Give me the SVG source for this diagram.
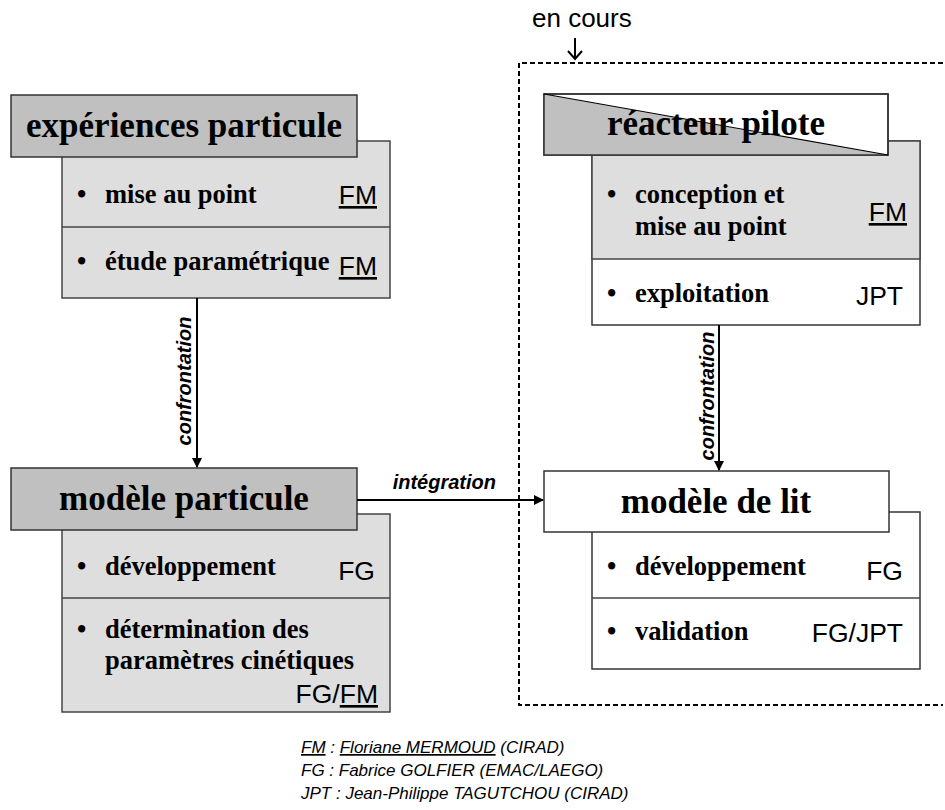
<svg xmlns="http://www.w3.org/2000/svg" width="945" height="810" viewBox="0 0 945 810">
<defs>
<marker id="ah" markerWidth="10" markerHeight="10" refX="9" refY="5" orient="auto" markerUnits="userSpaceOnUse">
<path d="M0,0 L10,5 L0,10 Z" fill="#000"/>
</marker>
<style>
.title{fill:#c0c0c0;stroke:#333;stroke-width:1.5}
.titlew{fill:#fff;stroke:#333;stroke-width:1.5}
.body{fill:#dedede;stroke:#444;stroke-width:1.5}
.bodyw{fill:#fff;stroke:#333;stroke-width:1.5}
.div{stroke:#444;stroke-width:1.5;fill:none}
.tt{font-family:"Liberation Serif","Times New Roman",serif;font-weight:bold;font-size:35px;fill:#000}
.bt{font-family:"Liberation Serif","Times New Roman",serif;font-weight:bold;font-size:26.5px;fill:#000}
.lab{font-family:"Liberation Sans",Arial,sans-serif;font-size:26.5px;fill:#000}
.conn{stroke:#000;stroke-width:2;fill:none}
.cl{font-family:"Liberation Sans",Arial,sans-serif;font-weight:bold;font-style:italic;font-size:20px;fill:#000}
.leg{font-family:"Liberation Sans",Arial,sans-serif;font-style:italic;font-size:17px;fill:#000}
.u{text-decoration:underline}
</style>
</defs>
<rect width="945" height="810" fill="#fff"/>

<g id="en-cours-zone">
<path d="M943,63 H519 V705 H943" fill="none" stroke="#000" stroke-width="2" stroke-dasharray="5,3"/>
<text x="532" y="27" font-family="'Liberation Sans',Arial,sans-serif" font-size="26" fill="#000">en cours</text>
<path d="M575,38 V59 M568,51 L575,59 L582,51" fill="none" stroke="#000" stroke-width="2"/>
</g>

<g id="node-experiences">
<rect class="body" x="62" y="141" width="328" height="157"/>
<line class="div" x1="62" y1="227" x2="390" y2="227"/>
<rect class="title" x="11" y="95" width="346" height="62"/>
<text class="tt" x="184" y="137" text-anchor="middle">expériences particule</text>
<text class="bt" x="77" y="203">•</text>
<text class="bt" x="105" y="203">mise au point</text>
<text class="lab u" x="377" y="204" text-anchor="end">FM</text>
<text class="bt" x="77" y="270">•</text>
<text class="bt" x="105" y="270">étude paramétrique</text>
<text class="lab u" x="377" y="275" text-anchor="end">FM</text>
</g>

<g id="node-reacteur">
<rect class="bodyw" x="592" y="141" width="328" height="184"/>
<rect x="592" y="141" width="328" height="118" fill="#dedede" stroke="#444" stroke-width="1.5"/>
<rect class="titlew" x="544" y="94" width="344" height="61"/>
<polygon points="544,94 888,155 544,155" fill="#c0c0c0"/>
<rect x="544" y="94" width="344" height="61" fill="none" stroke="#333" stroke-width="1.5"/>
<text class="tt" x="716" y="135" text-anchor="middle">réacteur pilote</text>
<line x1="544" y1="94" x2="888" y2="155" stroke="#000" stroke-width="1.2"/>
<text class="bt" x="607" y="203">•</text>
<text class="bt" x="635" y="203">conception et</text>
<text class="bt" x="635" y="235">mise au point</text>
<text class="lab u" x="907" y="221" text-anchor="end">FM</text>
<text class="bt" x="607" y="302">•</text>
<text class="bt" x="635" y="302">exploitation</text>
<text class="lab" x="903" y="305" text-anchor="end">JPT</text>
</g>

<g id="node-modele-particule">
<rect class="body" x="62" y="514" width="328" height="198"/>
<line class="div" x1="62" y1="598" x2="390" y2="598"/>
<rect class="title" x="11" y="468" width="346" height="62"/>
<text class="tt" x="184" y="510" text-anchor="middle">modèle particule</text>
<text class="bt" x="77" y="575">•</text>
<text class="bt" x="105" y="575">développement</text>
<text class="lab" x="375" y="580" text-anchor="end">FG</text>
<text class="bt" x="77" y="638">•</text>
<text class="bt" x="105" y="638">détermination des</text>
<text class="bt" x="105" y="669">paramètres cinétiques</text>
<text class="lab" x="378" y="703" text-anchor="end">FG/<tspan class="u">FM</tspan></text>
</g>

<g id="node-modele-lit">
<rect class="bodyw" x="592" y="512" width="328" height="157"/>
<line class="div" x1="592" y1="598" x2="920" y2="598"/>
<rect class="titlew" x="544" y="471" width="345" height="61"/>
<text class="tt" x="716" y="513" text-anchor="middle">modèle de lit</text>
<text class="bt" x="607" y="575">•</text>
<text class="bt" x="635" y="575">développement</text>
<text class="lab" x="903" y="580" text-anchor="end">FG</text>
<text class="bt" x="607" y="640">•</text>
<text class="bt" x="635" y="640">validation</text>
<text class="lab" x="903" y="642" text-anchor="end">FG/JPT</text>
</g>

<g id="connectors">
<line class="conn" x1="197" y1="298" x2="197" y2="467" marker-end="url(#ah)"/>
<text class="cl" transform="translate(191,381) rotate(-90)" text-anchor="middle">confrontation</text>
<line class="conn" x1="719" y1="325" x2="719" y2="470" marker-end="url(#ah)"/>
<text class="cl" transform="translate(714,396) rotate(-90)" text-anchor="middle">confrontation</text>
<line class="conn" x1="357" y1="500" x2="543" y2="500" marker-end="url(#ah)"/>
<text class="cl" x="496" y="489" text-anchor="end">intégration</text>
</g>

<g id="legend">
<text class="leg" x="301" y="753"><tspan class="u">FM</tspan> : <tspan class="u">Floriane MERMOUD</tspan> (CIRAD)</text>
<text class="leg" x="301" y="776">FG : Fabrice GOLFIER (EMAC/LAEGO)</text>
<text class="leg" x="301" y="799">JPT : Jean-Philippe TAGUTCHOU (CIRAD)</text>
</g>
</svg>
